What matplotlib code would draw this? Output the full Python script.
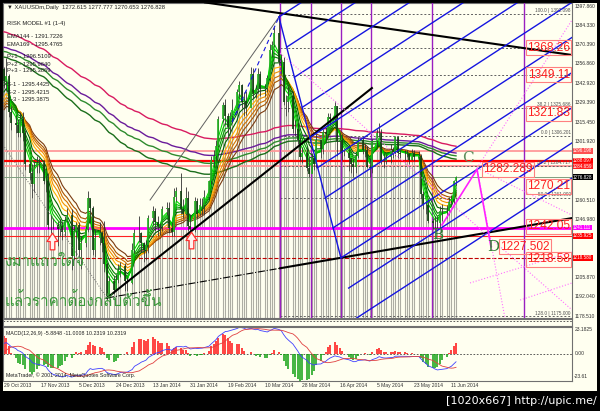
import numpy as np
import pandas as pd
import matplotlib
matplotlib.use("Agg")
import matplotlib.pyplot as plt
from matplotlib.patches import Rectangle
from matplotlib.path import Path
from matplotlib import font_manager, ft2font

# ---------------- data (XAUUSDm daily) ----------------
warm_close = [1309, 1309, 1366, 1367, 1333, 1322, 1318, 1337, 1324, 1338, 1327,
              1286, 1317, 1318, 1309, 1324, 1321, 1307, 1286, 1272, 1274, 1273,
              1282, 1320, 1315, 1316, 1338, 1333, 1349, 1352, 1353]

close = [1345, 1348, 1323, 1315,
         1314, 1308, 1318, 1308, 1286,
         1280, 1272, 1284, 1287, 1287,
         1274, 1274, 1243, 1243, 1243,
         1240, 1242, 1238, 1246, 1250,
         1221, 1239, 1243, 1225, 1230,
         1240, 1262, 1255, 1225, 1234,
         1237, 1230, 1215, 1193, 1203,
         1197, 1204, 1211, 1214,
         1203, 1202, 1225, 1237,
         1237, 1230, 1225, 1229, 1248,
         1253, 1245, 1242, 1242, 1254,
         1255, 1241, 1238, 1263, 1267,
         1254, 1251, 1262, 1242, 1240,
         1260, 1251, 1257, 1257, 1263,
         1274, 1289, 1292, 1299, 1318,
         1328, 1320, 1312, 1320, 1324,
         1337, 1342, 1330, 1331, 1326,
         1350, 1336, 1339, 1350, 1339,
         1340, 1347, 1367, 1370, 1379,
         1358, 1358, 1330, 1330, 1334,
         1311, 1311, 1303, 1291, 1294,
         1283, 1279, 1290, 1286, 1303,
         1297, 1309, 1307, 1319, 1318,
         1327, 1302, 1303, 1294, 1294,
         1290, 1286, 1284, 1292, 1303,
         1296, 1296, 1284, 1283, 1302,
         1308, 1308, 1288, 1288, 1291,
         1296, 1294, 1305, 1294, 1293,
         1293, 1293, 1289, 1294, 1291,
         1292, 1265, 1257, 1257, 1246,
         1244, 1244, 1244, 1253, 1253,
         1253, 1260, 1261, 1274, 1276.828]

high = [1355, 1361, 1350, 1327,
        1321, 1318, 1323, 1323, 1310,
        1289, 1286, 1288, 1292, 1290,
        1289, 1278, 1280, 1250, 1248,
        1246, 1247, 1246, 1249, 1255,
        1254, 1243, 1245, 1245, 1235,
        1242, 1267, 1261, 1256, 1240,
        1245, 1239, 1246, 1217, 1207,
        1207, 1208, 1215, 1217,
        1216, 1206, 1230, 1240,
        1249, 1238, 1231, 1232, 1250,
        1256, 1255, 1249, 1244, 1256,
        1259, 1259, 1245, 1269, 1270,
        1280, 1261, 1270, 1267, 1251,
        1263, 1262, 1262, 1262, 1268,
        1275, 1292, 1296, 1303, 1320,
        1330, 1332, 1322, 1323, 1332,
        1339, 1345, 1343, 1337, 1338,
        1355, 1354, 1342, 1354, 1352,
        1343, 1349, 1371, 1373, 1383,
        1392, 1364, 1362, 1335, 1341,
        1338, 1317, 1316, 1305, 1298,
        1298, 1291, 1294, 1291, 1307,
        1303, 1311, 1312, 1322, 1322,
        1331, 1327, 1308, 1307, 1296,
        1297, 1290, 1290, 1294, 1305,
        1305, 1300, 1299, 1290, 1304,
        1311, 1315, 1311, 1294, 1293,
        1300, 1298, 1306, 1305, 1296,
        1296, 1296, 1294, 1297, 1296,
        1295, 1293, 1267, 1260, 1261,
        1248, 1249, 1249, 1256, 1258,
        1257, 1263, 1264, 1275, 1277.777]

low = [1340, 1338, 1319, 1310,
       1308, 1305, 1305, 1302, 1282,
       1275, 1262, 1266, 1280, 1280,
       1272, 1266, 1240, 1237, 1240,
       1228, 1235, 1232, 1235, 1245,
       1211, 1218, 1221, 1220, 1212,
       1227, 1238, 1245, 1222, 1220,
       1229, 1224, 1210, 1190, 1192,
       1194, 1196, 1202, 1206,
       1196, 1196, 1201, 1223,
       1231, 1224, 1217, 1218, 1223,
       1243, 1239, 1235, 1236, 1239,
       1250, 1237, 1235, 1235, 1260,
       1251, 1248, 1250, 1239, 1238,
       1238, 1248, 1250, 1250, 1250,
       1261, 1272, 1284, 1288, 1298,
       1316, 1314, 1306, 1309, 1315,
       1322, 1333, 1326, 1320, 1321,
       1335, 1333, 1333, 1336, 1334,
       1334, 1337, 1345, 1362, 1369,
       1356, 1350, 1328, 1320, 1323,
       1308, 1306, 1300, 1288, 1287,
       1281, 1277, 1280, 1282, 1283,
       1290, 1293, 1302, 1305, 1314,
       1316, 1292, 1294, 1289, 1292,
       1281, 1280, 1277, 1280, 1290,
       1293, 1291, 1283, 1277, 1280,
       1298, 1305, 1286, 1283, 1286,
       1287, 1290, 1292, 1290, 1290,
       1289, 1291, 1286, 1289, 1288,
       1288, 1262, 1254, 1251, 1244,
       1240, 1240, 1241, 1241, 1246,
       1248, 1250, 1257, 1258, 1270.653]

date_labels = ['29 Oct 2013', '17 Nov 2013', '5 Dec 2013', '24 Dec 2013', '13 Jan 2014',
               '31 Jan 2014', '19 Feb 2014', '10 Mar 2014', '28 Mar 2014', '16 Apr 2014',
               '5 May 2014', '23 May 2014', '11 Jun 2014']

price_ticks = [1397.860, 1384.330, 1370.390, 1356.860, 1342.920, 1329.390, 1315.450,
               1301.920, 1260.510, 1246.980, 1205.870, 1192.040, 1178.510]

# long moving averages: value at the left edge and period
long_ma_seed = [1380, 1369, 1366, 1362]
long_ma_period = [169, 144, 130, 112]
long_ma_color = ['#d81b60', '#6a1b9a', '#2e8b2e', '#1b6e1b']

green_periods = [3, 4, 5, 6, 8]
green_colors = ['#00e000', '#00c000', '#00a000', '#008000', '#006400']
brown_periods = [10, 12, 14, 16, 19]
brown_colors = ['#ffb000', '#f09000', '#d07000', '#a85200', '#7a3a10']

# horizontal levels: price, colour, width, style, axis tag colour, tag text
levels = [(1295.3, '#ff9a9a', 1.3, '-', '#ff5050', '1296.198'),
          (1288.4, '#ff0000', 1.6, '-', '#ff0000', '1288.097'),
          (1284.4, '#ff9a9a', 1.3, '-', '#ff2020', '1284.659'),
          (1276.828, '#7f9f7f', 0.7, '-', '#000000', '1276.828'),
          (1241.111, '#ff00ff', 2.0, '-', '#ff00ff', '1241.111'),
          (1235.2, '#ff2020', 0.8, '-', '#ff0000', '1235.925'),
          (1219.6, '#c00000', 0.8, '--', '#ff0000', '1218.580')]

fib_prices = [1392.098, 1368.26, 1349.11, 1325.686, 1306.201, 1284.717, 1261.99, 1178.2]
fib_tags = {1392.098: '100.0 | 1392.098', 1325.686: '38.2 | 1325.686',
            1306.201: '0.0 | 1306.201', 1284.717: '38.2 | 1284.717',
            1261.99: '50.0 | 1261.990', 1178.2: '128.0 | 1175.000'}

# big price tags: price, text, left slot (None = flush with the right edge)
big_tags = [(1368.26, '1368.26', None), (1349.11, '1349.11', None), (1321.83, '1321.83', None),
            (1282.289, '1282.289', 205.6), (1270.21, '1270.21', None), (1242.05, '1242.05', None),
            (1227.502, '1227.502', 212.9), (1218.58, '1218.58', None)]

cycle_slots = [118.5, 131.8, 144.6, 157.3, 183.7, 223.0]

# trend lines (slot, price)
black_lines = [((86.3, 1400.4), (243.8, 1363.2)),
               ((44.2, 1191.3), (157.9, 1339.8)),
               ((118.5, 1212.3), (243.8, 1247.8))]
black_dashdot = [((44.2, 1191.3), (118.5, 1212.3))]
gray_dotted = [((-0.4, 1299.5), (44.2, 1191.3))]
gray_thin = [((62.7, 1260.6), (118.0, 1390.1))]
blue_dashed = [((97.9, 1315.7), (118.0, 1390.1))]
handle = ((118.0, 1390.1), (144.6, 1219.6))
fork_steps = [0, 1, 2, 3, 4, 5, 6, 7, 8, 9, 10]
fork_slope = 1.0716          # price per slot
pink_dotted = [((118.5, 1364.6), (243.8, 1182.8)),
               ((203.0, 1283.2), (243.8, 1249.9)),
               ((203.0, 1283.2), (243.8, 1388.0)),
               ((203.0, 1283.2), (215.0, 1177.1)),
               ((200.0, 1201.9), (243.8, 1223.8)),
               ((221.5, 1189.8), (243.8, 1201.9))]
abcd = [(188.0, 1243.0), (203.0, 1282.289), (209.0, 1227.502)]
letters = [(199.0, 1290.0, 'C', '#5f8f5f'), (186.3, 1235.8, 'B', '#2e7d32'),
           (209.9, 1227.3, 'D', '#2e7d32')]
arrows = [(20.6, 1231.6), (80.3, 1232.3)]

# ---------------- helpers ----------------
def ema(vals, period, seed=None):
    a = 2.0 / (period + 1)
    v = vals[0] if seed is None else seed
    out = []
    for x in vals:
        v = v + a * (x - v)
        out.append(v)
    return np.array(out)


def find_font(ch):
    for f in font_manager.fontManager.ttflist:
        try:
            if ord(ch) in ft2font.FT2Font(f.fname).get_charmap():
                return f.name
        except Exception:
            continue
    return 'DejaVu Sans'


thai_font = find_font('ก')
SMALL = ['Liberation Sans', 'DejaVu Sans']

W, H = 600, 411
CREAM = '#fffff0'
fig = plt.figure(figsize=(W / 100, H / 100), dpi=100, facecolor='black')
fig.patches.append(Rectangle((3 / W, 1 - 391 / H), 594 / W, 388 / H, transform=fig.transFigure,
                             facecolor=CREAM, edgecolor='none', zorder=-10))


def box(top, bottom, left=3, right=572):
    return [left / W, 1 - bottom / H, (right - left) / W, (bottom - top) / H]


ax = fig.add_axes(box(3, 318))
ax_s = fig.add_axes(box(319, 326))
ax_m = fig.add_axes(box(327, 381))
XL = (-0.43, 243.78)
YL = (1177.1, 1400.0)
for a in (ax, ax_s, ax_m):
    a.set_facecolor(CREAM)
    a.set_xlim(*XL)
    a.set_xticks([])
    a.set_yticks([])
    for sp in a.spines.values():
        sp.set_color('#707070')
        sp.set_linewidth(0.8)
ax.set_ylim(*YL)

# slots: one per calendar day except Saturdays (Sunday bars exist on this feed)
slots = pd.date_range('2013-10-29', '2014-08-31')
slots = slots[(slots.dayofweek != 5) & (slots != pd.Timestamp('2013-12-25'))]
slot_index = pd.Series(np.arange(len(slots)), index=slots)
bar_days = pd.bdate_range('2013-10-29', '2014-06-13')
bar_days = bar_days[~bar_days.isin(pd.to_datetime(['2013-12-25', '2014-01-01']))]
xs = slot_index[bar_days].values.astype(float)

c = np.array(close, float)
h = np.array(high, float)
l = np.array(low, float)
o = np.r_[warm_close[-1], c[:-1]]

# background stripes
ax.vlines(xs, YL[0], l, color='#adada3', lw=0.8, zorder=1)

# horizontal levels
for p, col, lw, ls, tagc, tag in levels:
    ax.axhline(p, color=col, lw=lw, ls=ls, zorder=2)

# fib dotted levels
for p in fib_prices:
    ax.plot([118.5, XL[1]], [p, p], color='#606060', lw=0.7, ls=(0, (2, 2)), zorder=2)
    if p in fib_tags:
        ax.text(XL[1] - 0.5, p + 0.6, fib_tags[p], fontsize=3.4, color='#505050', family=SMALL,
                ha='right', va='bottom', zorder=9)

# cycle lines
for s in cycle_slots:
    ax.axvline(s, color='#9a1fc0', lw=1.0, zorder=3)

# long MAs
for seed, per, col in zip(long_ma_seed, long_ma_period, long_ma_color):
    ax.plot(xs, ema(c, per, seed), color=col, lw=1.0, zorder=4)

# ribbon
full = np.r_[warm_close, c]
n0 = len(warm_close)
for per, col in zip(brown_periods[::-1], brown_colors[::-1]):
    ax.plot(xs, ema(full, per)[n0:], color=col, lw=0.8, zorder=5)
for per, col in zip(green_periods[::-1], green_colors[::-1]):
    ax.plot(xs, ema(full, per)[n0:], color=col, lw=0.8, zorder=6)

# candles
ax.vlines(xs, l, h, color='#303030', lw=0.6, zorder=7)
up = c >= o
ax.vlines(xs[up], o[up], c[up], color='#20b020', lw=1.2, zorder=8)
ax.vlines(xs[~up], c[~up], o[~up], color='#104010', lw=1.2, zorder=8)

# trend lines
for (x0, y0), (x1, y1) in black_lines:
    ax.plot([x0, x1], [y0, y1], color='black', lw=1.5, zorder=9)
for (x0, y0), (x1, y1) in black_dashdot:
    ax.plot([x0, x1], [y0, y1], color='black', lw=0.8, ls='-.', zorder=9)
for (x0, y0), (x1, y1) in gray_dotted:
    ax.plot([x0, x1], [y0, y1], color='#707070', lw=0.7, ls=':', zorder=9)
for (x0, y0), (x1, y1) in gray_thin:
    ax.plot([x0, x1], [y0, y1], color='#606060', lw=0.7, zorder=9)
for (x0, y0), (x1, y1) in blue_dashed:
    ax.plot([x0, x1], [y0, y1], color='#1515e0', lw=0.8, ls=(0, (4, 3)), zorder=9)
(hx0, hy0), (hx1, hy1) = handle
ax.plot([hx0, hx1], [hy0, hy1], color='#1515e0', lw=1.0, zorder=9)
for k in fork_steps:
    t = k / 8.0
    sx = hx0 + t * (hx1 - hx0)
    sy = hy0 + t * (hy1 - hy0)
    ex = XL[1]
    ey = sy + fork_slope * (ex - sx)
    ax.plot([sx, ex], [sy, ey], color='#1515e0', lw=1.0, zorder=9)
for (x0, y0), (x1, y1) in pink_dotted:
    ax.plot([x0, x1], [y0, y1], color='#ff70ff', lw=0.8, ls=':', zorder=9)
ax.plot([p[0] for p in abcd], [p[1] for p in abcd], color='#ff20ff', lw=1.2, zorder=10)

for s, p, t, col in letters:
    ax.text(s, p, t, fontsize=11, family='DejaVu Serif', color=col,
            ha='center', va='center', zorder=11)

# big price tags
for p, t, xl in big_tags:
    if xl is None:
        kw = dict(x=242.9, ha='right')
    else:
        kw = dict(x=xl, ha='left')
    ax.text(y=p, s=t, fontsize=8.6, color='#ff2020', va='center', family=SMALL, zorder=12,
            bbox=dict(boxstyle='square,pad=0.12', fc='none', ec='#ff8080', lw=0.8), **kw)

# arrows
arrow_path = Path([(-0.14, -0.5), (0.14, -0.5), (0.14, 0.0), (0.33, 0.0), (0.0, 0.5),
                   (-0.33, 0.0), (-0.14, 0.0), (-0.14, -0.5)], closed=True)
ax.plot([a[0] for a in arrows], [a[1] for a in arrows], ls='none', marker=arrow_path,
        markersize=12, markerfacecolor='#fff4f0', markeredgecolor='#ff3030', mew=0.9, zorder=12)

# thai text
ax.text(0.2, 1216.7, 'งมาแถวใดจ', fontsize=11, color='#3c9a3c', family=[thai_font, 'DejaVu Sans'],
        ha='left', va='center', zorder=12)
ax.text(0.2, 1189.8, 'แล้วราคาต้องกลับตัวขึ้น', fontsize=11, color='#3c9a3c',
        family=[thai_font, 'DejaVu Sans'], ha='left', va='center', zorder=12)

# legend text
leg = [(7, '▼ XAUUSDm,Daily  1272.615 1277.777 1270.653 1276.828'),
       (23, 'RISK MODEL #1 (1-4)'),
       (37, 'EMA144 - 1291.7226'), (44, 'EMA169 - 1295.4765'),
       (57, 'P+1 - 1296.5109'), (64, 'P+2 - 1295.9640'), (71, 'P+3 - 1295.3869'),
       (85, 'S-1 - 1295.4425'), (92, 'S-2 - 1295.4215'), (99, 'S-3 - 1295.3875')]
for py, t in leg:
    fig.text(7 / W, 1 - py / H, t, fontsize=4.2, color='#202020', va='center', ha='left',
             family=SMALL, zorder=20)

# right axis
ytr = ax.get_yaxis_transform()
for p in price_ticks:
    ax.text(1.004, p, f'{p:.3f}', transform=ytr, fontsize=3.6, color='#303030', va='center',
            ha='left', clip_on=False, family=SMALL)
for p, col, lw, ls, tagc, tag in levels:
    ax.text(1.002, p, tag, transform=ytr, fontsize=3.3, color='white', va='center', ha='left',
            clip_on=False, zorder=15, family=SMALL,
            bbox=dict(boxstyle='square,pad=0.1', fc=tagc, ec='none'))

# strip panel
ax_s.set_ylim(-1, 1)
ax_s.axhline(0.3, color='#404040', lw=0.6, ls=(0, (2, 2)))

# MACD panel (signal = SMA 9 of main, histogram = 2 x (main - signal))
e12 = pd.Series(full).ewm(span=12, adjust=False).mean().values
e26 = pd.Series(full).ewm(span=26, adjust=False).mean().values
macd = e12 - e26
signal = pd.Series(macd).rolling(9, min_periods=1).mean().values
hist = 2 * (macd - signal)
macd, signal, hist = macd[n0:], signal[n0:], hist[n0:]
ax_m.set_ylim(-23.61, 23.1825)
ax_m.axhline(0, color='#404040', lw=0.6, ls=(0, (2, 2)))
pos = hist >= 0
ax_m.vlines(xs[pos], 0, hist[pos], color='#ff1010', lw=1.1)
ax_m.vlines(xs[~pos], 0, hist[~pos], color='#10a010', lw=1.1)
ax_m.plot(xs, macd, color='#4040ff', lw=0.6)
ax_m.plot(xs, signal, color='#e04040', lw=0.6)
ax_m.text(0.005, 0.93, 'MACD(12,26,9) -5.8848 -11.0008 10.2319 10.2319', transform=ax_m.transAxes,
          fontsize=3.8, color='#202020', va='top', family=SMALL)
ax_m.text(0.005, 0.06, 'MetaTrader, © 2001-2014, MetaQuotes Software Corp.', transform=ax_m.transAxes,
          fontsize=3.8, color='#202020', va='bottom', family=SMALL)
ytm = ax_m.get_yaxis_transform()
for v, t in [(21.0, '23.1825'), (0, '0.00'), (-19.5, '-23.61')]:
    ax_m.text(1.004, v, t, transform=ytm, fontsize=3.6, color='#303030', va='center', ha='left',
              clip_on=False, family=SMALL)

# date axis
for i, t in enumerate(date_labels):
    s = i * 16
    xp = (4 + s * 2.33) / W
    fig.text(xp, 1 - 385 / H, t, fontsize=3.6, color='#303030', ha='left', va='center', family=SMALL)

fig.text(597 / W, 1 - 401 / H, '[1020x667] http://upic.me/', fontsize=8, color='white',
         ha='right', va='center')

fig.savefig('out.png', dpi=100, facecolor='black')
